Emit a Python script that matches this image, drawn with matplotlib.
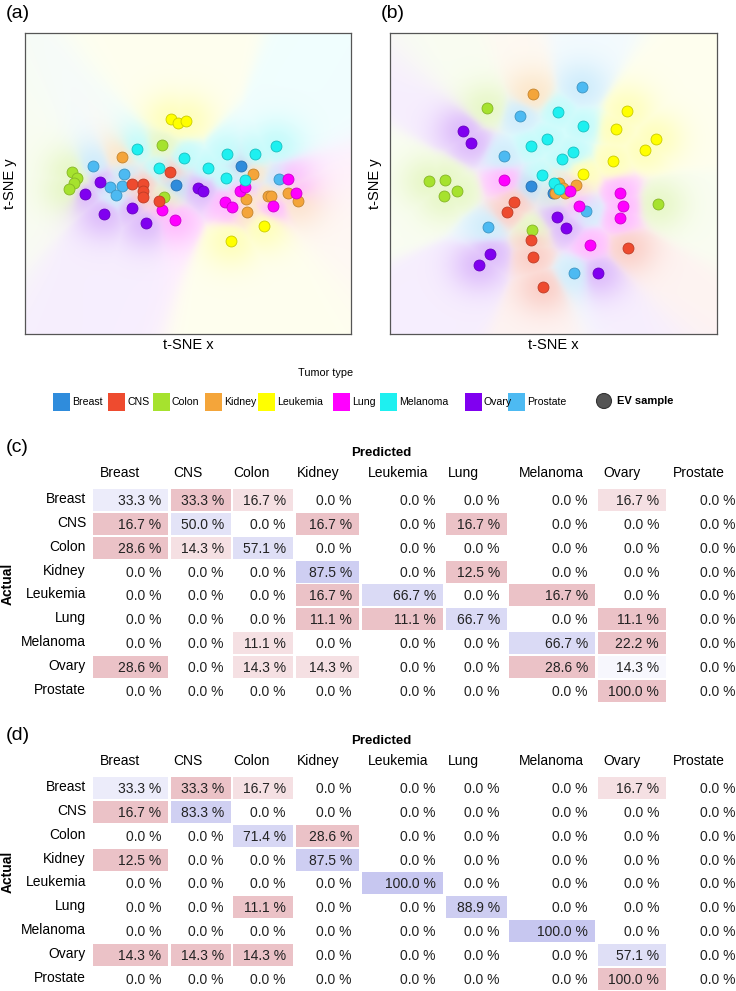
import numpy as np
import matplotlib
matplotlib.use("Agg")
import matplotlib.pyplot as plt
from matplotlib.colors import to_rgb
from matplotlib.patches import Rectangle, Circle

plt.rcParams['font.family'] = ['Liberation Sans', 'DejaVu Sans']

# Tumor types and colours
types = ['Breast', 'CNS', 'Colon', 'Kidney', 'Leukemia', 'Lung', 'Melanoma', 'Ovary', 'Prostate']
type_colors = ['#2F8CDC', '#EE4B2F', '#A6E22E', '#F4A53A', '#FFFF00', '#FF00FF', '#1EF0F0', '#8000F0', '#4DBAF2']
draw_order = ['Prostate', 'Breast', 'Colon', 'Ovary', 'Kidney', 'Lung', 'Melanoma', 'CNS', 'Leukemia']

# Panel (a) t-SNE points (axes scaled 0-100)
a_x = [44.8, 47.0, 49.4, 63.2, 73.3,
       41.9, 14.3, 15.9, 15.0, 13.4, 42.6,
       34.5, 48.9, 41.2, 56.2, 61.9, 70.6, 77.1, 61.6, 67.5,
       20.8, 30.5, 26.1, 29.7, 27.9, 78.0,
       66.3, 46.2,
       29.7, 69.9, 67.8, 68.2, 74.4, 75.5, 80.8, 83.7,
       44.6, 32.7, 36.3, 36.3, 36.3, 41.1,
       23.1, 18.4, 24.1, 32.8, 37.1, 53.2, 54.7,
       42.1, 46.1, 61.3, 63.6, 66.0, 67.5, 76.0, 80.7, 83.1]
a_y = [71.3, 70.2, 70.9, 30.8, 35.9,
       62.8, 53.7, 51.7, 50.1, 48.1, 45.5,
       61.6, 58.6, 55.0, 55.3, 59.9, 59.8, 62.4, 51.9, 51.1,
       55.9, 53.3, 48.7, 49.2, 46.1, 51.4,
       55.9, 49.5,
       58.7, 53.1, 44.9, 40.5, 45.8, 45.8, 46.9, 44.2,
       53.8, 49.7, 49.7, 47.6, 45.6, 44.1,
       50.6, 46.5, 40.0, 41.9, 36.9, 48.4, 47.6,
       41.2, 37.8, 44.0, 42.3, 47.5, 48.7, 42.6, 51.6, 46.9]
a_type = (['Leukemia'] * 5 + ['Colon'] * 6 + ['Melanoma'] * 9 + ['Prostate'] * 6 +
          ['Breast'] * 2 + ['Kidney'] * 8 + ['CNS'] * 6 + ['Ovary'] * 7 + ['Lung'] * 9)

# Panel (b) t-SNE points
b_x = [43.6, 51.8, 56.9, 53.6, 50.6, 52.8,
       58.6, 39.9, 34.8, 59.9, 30.1, 56.3,
       29.6, 11.8, 16.9, 16.6, 20.5, 82.1, 43.4,
       51.5, 58.9, 48.0, 43.1, 55.9, 52.5, 46.4, 50.3, 51.8,
       72.6, 69.2, 81.2, 78.0, 68.1, 59.1,
       22.3, 24.8, 51.2, 53.9, 30.7, 27.3, 63.7,
       35.0, 55.0, 57.8, 70.2, 71.4, 70.4, 61.3,
       43.1, 49.7,
       38.0, 35.9, 43.2, 43.6, 72.9, 46.8]
b_y = [79.6, 50.3, 49.4, 46.7, 47.0, 48.4,
       82.0, 72.4, 59.2, 41.0, 35.5, 20.2,
       75.0, 50.7, 51.1, 45.7, 47.4, 43.1, 34.5,
       73.6, 69.2, 64.8, 62.5, 60.4, 58.0, 52.7, 50.1, 48.1,
       74.2, 68.0, 64.9, 61.0, 57.6, 53.3,
       67.4, 63.6, 39.0, 35.1, 26.7, 22.9, 20.4,
       51.1, 47.5, 42.6, 46.7, 42.5, 38.6, 29.5,
       49.1, 47.0,
       44.0, 40.4, 31.3, 25.7, 28.6, 15.5]
b_type = (['Kidney'] * 6 + ['Prostate'] * 6 + ['Colon'] * 7 + ['Melanoma'] * 9 +
          ['Leukemia'] * 6 + ['Ovary'] * 7 + ['Lung'] * 7 + ['Breast'] * 2 + ['CNS'] * 6)

# Confusion matrices (%), rows = actual, cols = predicted
cm_c = [[33.3, 33.3, 16.7, 0.0, 0.0, 0.0, 0.0, 16.7, 0.0],
        [16.7, 50.0, 0.0, 16.7, 0.0, 16.7, 0.0, 0.0, 0.0],
        [28.6, 14.3, 57.1, 0.0, 0.0, 0.0, 0.0, 0.0, 0.0],
        [0.0, 0.0, 0.0, 87.5, 0.0, 12.5, 0.0, 0.0, 0.0],
        [0.0, 0.0, 0.0, 16.7, 66.7, 0.0, 16.7, 0.0, 0.0],
        [0.0, 0.0, 0.0, 11.1, 11.1, 66.7, 0.0, 11.1, 0.0],
        [0.0, 0.0, 11.1, 0.0, 0.0, 0.0, 66.7, 22.2, 0.0],
        [28.6, 0.0, 14.3, 14.3, 0.0, 0.0, 28.6, 14.3, 0.0],
        [0.0, 0.0, 0.0, 0.0, 0.0, 0.0, 0.0, 100.0, 0.0]]
cm_d = [[33.3, 33.3, 16.7, 0.0, 0.0, 0.0, 0.0, 16.7, 0.0],
        [16.7, 83.3, 0.0, 0.0, 0.0, 0.0, 0.0, 0.0, 0.0],
        [0.0, 0.0, 71.4, 28.6, 0.0, 0.0, 0.0, 0.0, 0.0],
        [12.5, 0.0, 0.0, 87.5, 0.0, 0.0, 0.0, 0.0, 0.0],
        [0.0, 0.0, 0.0, 0.0, 100.0, 0.0, 0.0, 0.0, 0.0],
        [0.0, 0.0, 11.1, 0.0, 0.0, 88.9, 0.0, 0.0, 0.0],
        [0.0, 0.0, 0.0, 0.0, 0.0, 0.0, 100.0, 0.0, 0.0],
        [14.3, 14.3, 14.3, 0.0, 0.0, 0.0, 0.0, 57.1, 0.0],
        [0.0, 0.0, 0.0, 0.0, 0.0, 0.0, 0.0, 100.0, 0.0]]

cmap = dict(zip(types, type_colors))

W, H = 736, 991
fig = plt.figure(figsize=(W / 100, H / 100), dpi=100)

# overlay axis in pixel units for text / legend / tables
ov = fig.add_axes([0, 0, 1, 1], zorder=0)
ov.set_xlim(0, W)
ov.set_ylim(H, 0)
ov.axis('off')


def background(ax, xs, ys, labs):
    gx, gy = np.meshgrid(np.linspace(0, 100, 250), np.linspace(0, 100, 250))
    xs = np.array(xs); ys = np.array(ys); labs = np.array(labs)
    present = [t for t in types if t in labs]
    dmin = []
    for t in present:
        m = labs == t
        d = np.sqrt((gx[..., None] - xs[m]) ** 2 + (gy[..., None] - ys[m]) ** 2).min(axis=-1)
        dmin.append(d)
    dmin = np.array(dmin)
    w = np.exp(-(dmin - dmin.min(axis=0)) / 1.2)
    w /= w.sum(axis=0)
    cols = np.array([to_rgb(cmap[t]) for t in present])
    rgb = np.einsum('kij,kc->ijc', w, cols)
    d0 = dmin.min(axis=0)
    alpha = 0.065 + 0.19 * np.exp(-(d0 / 9.0) ** 2)
    img = 1 - alpha[..., None] * (1 - rgb)
    ax.imshow(img, extent=(0, 100, 0, 100), origin='lower', aspect='auto',
              interpolation='bilinear', zorder=0)


def tsne_panel(rect, xs, ys, labs, tag, tag_x):
    ax = fig.add_axes(rect, zorder=2)
    background(ax, xs, ys, labs)
    xs = np.array(xs); ys = np.array(ys); labs = np.array(labs)
    for t in draw_order:
        m = labs == t
        if m.any():
            c = np.array(to_rgb(cmap[t]))
            ax.scatter(xs[m], ys[m], s=62, color=c, edgecolor=c * 0.8,
                       linewidth=0.6, zorder=3)
    ax.set_xlim(0, 100)
    ax.set_ylim(0, 100)
    ax.set_xticks([])
    ax.set_yticks([])
    for sp in ax.spines.values():
        sp.set_color('#555555')
        sp.set_linewidth(0.9)
    ax.set_xlabel('t-SNE x', fontsize=10.5, labelpad=3)
    ax.set_ylabel('t-SNE y', fontsize=10.5, labelpad=6)
    ov.text(tag_x, 13, tag, fontsize=14, ha='left', va='center')
    return ax


tsne_panel([25 / W, 1 - 334 / H, 326 / W, 301 / H], a_x, a_y, a_type, '(a)', 6)
tsne_panel([390 / W, 1 - 334 / H, 327 / W, 301 / H], b_x, b_y, b_type, '(b)', 381)

# legend
ov.text(326, 373, 'Tumor type', fontsize=7.8, ha='center', va='center')
sw_left = [53, 108, 153, 205, 258, 333, 380, 465, 508]
for t, xl in zip(types, sw_left):
    ov.add_patch(Rectangle((xl, 393), 17, 18, color=cmap[t], lw=0))
    ov.text(xl + 19, 402, t, fontsize=7.6, ha='left', va='center')
ov.add_patch(Circle((604, 401), 7.5, facecolor='#555555', edgecolor='#333333', lw=0.8))
ov.text(617, 401, 'EV sample', fontsize=8, ha='left', va='center', fontweight='bold')

# confusion tables
col_left = [93, 171, 233, 296, 362, 446, 509, 598, 668]
col_right = [168, 231, 293, 359, 443, 507, 595, 666, 742]
head_x = [100, 173, 233, 297, 368, 448, 519, 603, 673]
diag_full = np.array([0.78, 0.78, 0.94])
off_full = np.array([0.92, 0.76, 0.78])


def conf_table(cm, tag, top):
    cm = np.array(cm)
    ov.text(6, top - 26, tag, fontsize=14, ha='left', va='center')
    ov.text(381, top - 20, 'Predicted', fontsize=9.5, ha='center', va='center', fontweight='bold')
    for j, t in enumerate(types):
        ov.text(head_x[j], top, t, fontsize=10, ha='left', va='center')
    pitch = 23.85
    for i, t in enumerate(types):
        yc = top + 27 + i * pitch
        ov.text(86, yc - 1, t, fontsize=10, ha='right', va='center')
        off = np.array([cm[i, k] for k in range(len(types)) if k != i])
        off_max = off.max() if off.max() > 0 else 1
        for j in range(len(types)):
            v = cm[i, j]
            if v > 0:
                if i == j:
                    f = v / 100.0
                    col = 1 - f * (1 - diag_full)
                else:
                    f = v / off_max
                    col = 1 - f * (1 - off_full)
                ov.add_patch(Rectangle((col_left[j], yc - 11), col_right[j] - col_left[j], 22,
                                       facecolor=col, lw=0))
            ov.text(col_right[j] - 7, yc + 1, f'{v:.1f} %', fontsize=10,
                    ha='right', va='center', color='#222222')
    ov.text(8, top + 27 + 3.5 * pitch, 'Actual', fontsize=10, rotation=90,
            ha='center', va='center', fontweight='bold')


conf_table(cm_c, '(c)', 473)
conf_table(cm_d, '(d)', 761)

fig.savefig('out.png', dpi=100)
